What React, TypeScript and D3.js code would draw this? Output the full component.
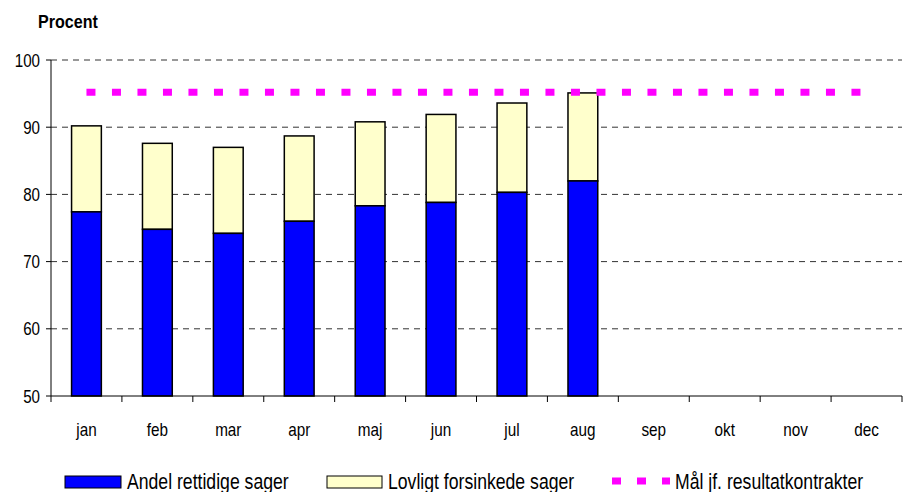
import React from "react";
import * as d3 from "d3";

const months = ["jan", "feb", "mar", "apr", "maj", "jun", "jul", "aug", "sep", "okt", "nov", "dec"];
const rettidige: (number | null)[] = [77.4, 74.8, 74.2, 76.0, 78.3, 78.8, 80.3, 82.0, null, null, null, null];
const totalValues: (number | null)[] = [90.2, 87.6, 87.0, 88.7, 90.8, 91.9, 93.6, 95.1, null, null, null, null];
const target: number[] = [95.2, 95.2, 95.2, 95.2, 95.2, 95.2, 95.2, 95.2, 95.2, 95.2, 95.2, 95.2];
const yTicks = [50, 60, 70, 80, 90, 100];
const seriesNames = ["Andel rettidige sager", "Lovligt forsinkede sager", "Mål jf. resultatkontrakter"];

const W = 903, H = 492;
const left = 51, right = 902, top = 60, bottom = 396;
const font = "'Liberation Sans', Arial, sans-serif";

function CText(props: { x: number; y: number; sx: number; size: number; anchor?: string; bold?: boolean; children: React.ReactNode }) {
  return (
    <text
      transform={`translate(${props.x},${props.y}) scale(${props.sx},1)`}
      textAnchor={props.anchor || "start"}
      fontFamily={font}
      fontSize={props.size}
      fontWeight={props.bold ? "bold" : "normal"}
      fill="#000"
    >
      {props.children}
    </text>
  );
}

export default function App() {
  const x = d3.scaleBand<string>().domain(months).range([left, right]).paddingInner(0).paddingOuter(0);
  const y = d3.scaleLinear().domain([50, 100]).range([bottom, top]);
  const bw = x.bandwidth() * 0.42;
  const line = d3.line<number>().x((_, i) => x(months[i])! + x.bandwidth() / 2).y((d) => y(d));

  return (
    <svg width={W} height={H} style={{ position: "absolute", left: 0, top: 0, background: "#fff" }}>
      <CText x={38} y={28} sx={0.92} size={17.5} bold>Procent</CText>
      {yTicks.map((t) => (
        <g key={t}>
          {t > 50 && (
            <line x1={left} x2={right} y1={y(t)} y2={y(t)} stroke="#333" strokeWidth={1} strokeDasharray="6,5" />
          )}
          <line x1={left - 5} x2={left} y1={y(t)} y2={y(t)} stroke="#000" />
          <CText x={40} y={y(t) + 6.5} sx={0.82} size={18.5} anchor="end">{t}</CText>
        </g>
      ))}
      {months.map((m, i) => {
        const r = rettidige[i];
        const tot = totalValues[i];
        if (r == null || tot == null) return null;
        const bx = x(m)! + (x.bandwidth() - bw) / 2;
        return (
          <g key={m}>
            <rect x={bx} y={y(tot)} width={bw} height={y(r) - y(tot)} fill="#FFFFCC" stroke="#000" strokeWidth={1.5} />
            <rect x={bx} y={y(r)} width={bw} height={y(50) - y(r)} fill="#0000FF" stroke="#000" strokeWidth={1.5} />
          </g>
        );
      })}
      <path d={line(target) || ""} fill="none" stroke="#FF00FF" strokeWidth={7} strokeDasharray="9,16.5" />
      <line x1={left} x2={left} y1={top} y2={bottom} stroke="#000" strokeWidth={1} />
      <line x1={left} x2={right} y1={bottom} y2={bottom} stroke="#000" strokeWidth={1} />
      {months.map((m) => (
        <line key={"t" + m} x1={x(m)! + x.bandwidth()} x2={x(m)! + x.bandwidth()} y1={bottom} y2={bottom + 6} stroke="#000" />
      ))}
      <line x1={left} x2={left} y1={bottom} y2={bottom + 6} stroke="#000" />
      {months.map((m) => (
        <CText key={"l" + m} x={x(m)! + x.bandwidth() / 2} y={436} sx={0.85} size={18} anchor="middle">{m}</CText>
      ))}
      <rect x={65} y={476} width={56} height={12} fill="#0000FF" stroke="#000" strokeWidth={1} />
      <CText x={127} y={489} sx={0.82} size={21.5}>{seriesNames[0]}</CText>
      <rect x={327} y={476} width={55} height={12} fill="#FFFFCC" stroke="#000" strokeWidth={1} />
      <CText x={388} y={489} sx={0.82} size={21.5}>{seriesNames[1]}</CText>
      <line x1={612} x2={670} y1={481} y2={481} stroke="#FF00FF" strokeWidth={7} strokeDasharray="9,16" />
      <CText x={675} y={489} sx={0.82} size={21.5}>{seriesNames[2]}</CText>
    </svg>
  );
}
